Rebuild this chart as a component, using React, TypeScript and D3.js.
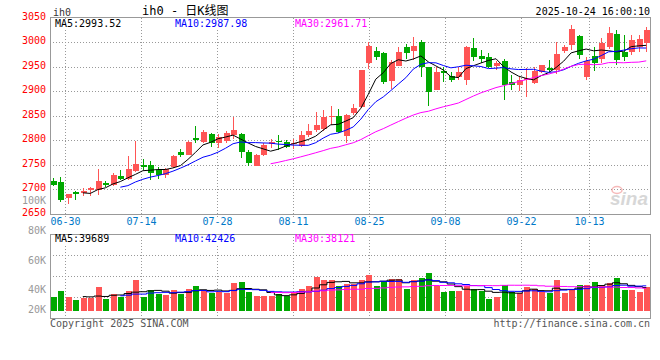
import React from "react";
import * as d3 from "d3";

const dates = [
  "06-27", "06-30",
  "07-01", "07-02", "07-03", "07-04", "07-07", "07-08", "07-09", "07-10", "07-11",
  "07-14", "07-15", "07-16", "07-17", "07-18", "07-21", "07-22", "07-23", "07-24", "07-25",
  "07-28", "07-29", "07-30", "07-31",
  "08-01", "08-04", "08-05", "08-06", "08-07", "08-08", "08-11", "08-12", "08-13", "08-14",
  "08-15", "08-18", "08-19", "08-20", "08-21", "08-22", "08-25", "08-26", "08-27", "08-28", "08-29",
  "09-01", "09-02", "09-03", "09-04", "09-05", "09-08", "09-09", "09-10", "09-11", "09-12",
  "09-15", "09-16", "09-17", "09-18", "09-19", "09-22", "09-23", "09-24", "09-25", "09-26",
  "09-29", "09-30",
  "10-09", "10-10", "10-13", "10-14", "10-15", "10-16", "10-17", "10-20", "10-21", "10-22",
  "10-23", "10-24",
];

const opens = [
  2717, 2714, 2683, 2694, 2692, 2698, 2699, 2713, 2709, 2728,
  2722, 2737, 2750, 2750, 2739, 2729, 2745, 2776, 2771, 2805,
  2796, 2813, 2795, 2799, 2810, 2813, 2777, 2748, 2771, 2792,
  2799, 2796, 2792, 2789, 2810, 2821, 2823, 2847, 2850, 2809,
  2856, 2867, 2958, 2982, 2979, 2922, 2952, 2990, 2983, 3000,
  2949, 2903, 2942, 2931, 2929, 2924, 2988, 2973, 2969, 2952,
  2962, 2920, 2913, 2923, 2916, 2940, 2948, 2944, 2982, 2995,
  3012, 2930, 2972, 2965, 2990, 3017, 2981, 2980, 2990, 2999,
];
const highs = [
  2723, 2725, 2691, 2697, 2702, 2705, 2741, 2717, 2734, 2739,
  2767, 2799, 2762, 2758, 2746, 2743, 2770, 2782, 2799, 2829,
  2822, 2814, 2812, 2819, 2848, 2814, 2780, 2773, 2794, 2803,
  2811, 2801, 2803, 2820, 2833, 2858, 2862, 2870, 2863, 2853,
  2874, 2944, 3001, 2991, 2980, 2963, 2991, 2997, 3010, 3005,
  2949, 2949, 2949, 2940, 2949, 2992, 3008, 2984, 2978, 2961,
  2965, 2933, 2930, 2947, 2949, 2954, 2964, 3001, 2995, 3035,
  3015, 2971, 2990, 3008, 3032, 3025, 3015, 3015, 3015, 3032,
];
const lows = [
  2707, 2675, 2669, 2678, 2686, 2687, 2689, 2705, 2707, 2719,
  2720, 2736, 2739, 2718, 2722, 2724, 2743, 2765, 2769, 2795,
  2795, 2787, 2785, 2794, 2803, 2763, 2748, 2748, 2767, 2785,
  2780, 2784, 2782, 2787, 2807, 2816, 2820, 2831, 2815, 2795,
  2852, 2866, 2946, 2964, 2915, 2904, 2952, 2965, 2964, 2930,
  2871, 2902, 2920, 2920, 2923, 2913, 2961, 2957, 2947, 2944,
  2882, 2903, 2901, 2889, 2915, 2938, 2940, 2935, 2978, 2984,
  2965, 2923, 2942, 2957, 2986, 2954, 2961, 2974, 2981, 2981,
];
const closes = [
  2709, 2678, 2690, 2690, 2697, 2703, 2717, 2708, 2729, 2722,
  2741, 2752, 2746, 2734, 2729, 2741, 2768, 2770, 2797, 2801,
  2817, 2794, 2807, 2814, 2821, 2777, 2754, 2771, 2790, 2797,
  2797, 2786, 2795, 2811, 2819, 2831, 2848, 2849, 2816, 2852,
  2866, 2943, 2992, 2971, 2918, 2960, 2981, 2979, 2992, 2949,
  2899, 2940, 2937, 2924, 2940, 2991, 2969, 2965, 2950, 2957,
  2912, 2913, 2923, 2927, 2942, 2954, 2944, 2976, 2991, 3027,
  2975, 2962, 2958, 2999, 3020, 2963, 2969, 3005, 3007, 3025,
];
const volumes = [
  35300, 39300, 35300, 33200, 34600, 34400, 42000, 33900, 37300, 35500,
  39300, 46700, 35300, 40000, 37300, 36600, 40000, 37300, 40700, 42700,
  40000, 37800, 38400, 37800, 44700, 45400, 38600, 35900, 35900, 35900,
  37300, 35900, 38600, 40700, 42700, 48800, 46700, 46700, 42700, 44000,
  44000, 46700, 50100, 42700, 46100, 47400, 47400, 40700, 46700, 48100,
  51400, 42700, 38600, 39300, 39300, 42700, 40700, 39300, 33900, 35300,
  43400, 38600, 38000, 42000, 40700, 38600, 38000, 46700, 38000, 40000,
  43400, 43400, 45400, 42700, 44700, 48100, 40000, 40000, 38400, 41800,
];

const priceTicks = [3050, 3000, 2950, 2900, 2850, 2800, 2750, 2700, 2650];
const priceGrid = [3000, 2950, 2900, 2850, 2800, 2750, 2700];
const volTicks = [100000, 80000, 60000, 40000, 20000];
const volTickLabels = ["100K", "80K", "60K", "40K", "20K"];
const volGrid = [1, 2, 3];
const dateLabels = ["06-30", "07-14", "07-28", "08-11", "08-25", "09-08", "09-22", "10-13"];

const maNames = ["MA5", "MA10", "MA30"];
const maPeriods = [5, 10, 30];
const maColors = ["#000000", "#0000ff", "#ff00ff"];
const priceMAText = ["2993.52", "2987.98", "2961.71"];
const volMAText = ["39689", "42426", "38121"];

const W = 660;
const H = 360;
const L = 50;
const R = 650;
const mainTop = 17.8;
const mainBottom = 213.8;
const volTop = 234;
const volBottom = 318;
const volBase = 311;
const RED = "#ff5555";
const GREEN = "#00a800";
const MONO = "'DejaVu Sans Mono', 'Liberation Mono', monospace";
const maTextX = [55, 175, 295];

function movingAvg(vals: number[], n: number): (number | null)[] {
  return vals.map((_, i) => (i < n - 1 ? null : d3.mean(vals.slice(i - n + 1, i + 1)) as number));
}

export default function App() {
  const x = d3.scaleBand<string>().domain(dates).range([49, 650]).padding(0);
  const cx = (d: string) => (x(d) as number) + x.bandwidth() / 2;
  const xLab = d3.scaleLinear().domain([-1, dates.length - 2]).range([L, R]);
  const y = d3.scaleLinear().domain([2650, 3050]).range([mainBottom, mainTop]);
  const yV = d3.scaleLinear().domain([0, 100000]).range([349.3, 201]);

  const bodyW = 6;
  const px = (v: number) => Math.round(v) + 0.5;

  const priceLines = maPeriods.map((n) => {
    const ma = movingAvg(closes, n);
    return d3
      .line<number>()
      .defined((_, i) => ma[i] !== null)
      .x((_, i) => cx(dates[i]))
      .y((_, i) => y(ma[i] as number))(closes.map((c) => c)) as string;
  });
  const volLines = maPeriods.map((n) => {
    const ma = movingAvg(volumes, n);
    return d3
      .line<number>()
      .defined((_, i) => ma[i] !== null)
      .x((_, i) => cx(dates[i]))
      .y((_, i) => yV(ma[i] as number))
      .curve(d3.curveStep)(volumes) as string;
  });

  const gridX = dateLabels.map((d) => px(xLab(dates.indexOf(d))));

  return (
    <svg
      width={W}
      height={H}
      style={{ position: "absolute", left: 0, top: 0, background: "#fff" }}
      fontFamily={MONO}
    >
      <rect x={0} y={0} width={W} height={H} fill="#fff" />
      {/* header */}
      <text x={53} y={16} fontSize={10} fill="#333">ih0</text>
      <text x={142} y={15} fontSize={12} fill="#000" fontFamily={`${MONO}, 'Noto Sans CJK SC'`}>ih0 - 日K线图</text>
      <text x={650} y={15} fontSize={10} fill="#000" textAnchor="end">2025-10-24 16:00:10</text>

      {/* main grid */}
      <g shapeRendering="crispEdges">
        {priceGrid.map((v) => (
          <line key={v} x1={L} x2={R} y1={px(y(v))} y2={px(y(v))} stroke="#999" strokeDasharray="1,2" />
        ))}
        {gridX.map((gx, i) => (
          <line key={i} x1={gx} x2={gx} y1={mainTop} y2={mainBottom + 3} stroke="#999" strokeDasharray="1,2" />
        ))}
        {volGrid.map((k) => {
          const gy = px(volTop + ((volBottom - volTop) * k) / 4);
          return <line key={k} x1={L} x2={R} y1={gy} y2={gy} stroke="#999" strokeDasharray="1,2" />;
        })}
        {gridX.map((gx, i) => (
          <line key={"v" + i} x1={gx} x2={gx} y1={volTop} y2={volBottom + 3} stroke="#999" strokeDasharray="1,2" />
        ))}
      </g>

      {/* watermark */}
      <g opacity={0.55}>
        <ellipse cx={617} cy={190} rx={5} ry={3.5} fill="none" stroke="#f08080" strokeWidth={1.5} />
        <text x={648} y={205} textAnchor="end" fontSize={19} fontStyle="italic" fontWeight="bold" fill="#b8b8b8" fontFamily="'Liberation Sans', Arial, sans-serif">sina</text>
      </g>

      {/* candles */}
      <g shapeRendering="crispEdges">
        {dates.map((d, i) => {
          const o = opens[i];
          const c = closes[i];
          const up = c >= o;
          const col = up ? RED : GREEN;
          const xc = Math.round(cx(d));
          const top = y(Math.max(o, c));
          const bot = y(Math.min(o, c));
          return (
            <g key={d}>
              <line x1={xc + 0.5} x2={xc + 0.5} y1={y(highs[i])} y2={y(lows[i])} stroke={col} />
              <rect x={xc - bodyW / 2 + 0.5} y={top} width={bodyW} height={Math.max(1, bot - top)} fill={col} />
            </g>
          );
        })}
      </g>

      {/* MA lines main */}
      {priceLines.map((p, i) => (
        <path key={i} d={p} fill="none" stroke={maColors[i]} strokeWidth={1} />
      ))}

      {/* volume bars */}
      <g shapeRendering="crispEdges">
        {dates.map((d, i) => {
          const col = closes[i] >= opens[i] ? RED : GREEN;
          const xc = Math.round(cx(d));
          const top = yV(volumes[i]);
          return <rect key={d} x={xc - bodyW / 2 + 0.5} y={top} width={bodyW} height={volBase - top} fill={col} />;
        })}
      </g>
      {volLines.map((p, i) => (
        <path key={i} d={p} fill="none" stroke={maColors[i]} strokeWidth={1} />
      ))}

      {/* frames */}
      <g shapeRendering="crispEdges" fill="none" stroke="#999">
        <rect x={L + 0.5} y={px(mainTop) - 1} width={R - L} height={px(mainBottom) - px(mainTop) + 1} />
        <rect x={L + 0.5} y={volTop + 0.5} width={R - L} height={volBottom - volTop} />
      </g>

      {/* MA header texts */}
      {maNames.map((n, i) => {
        const t1 = `${n}:${priceMAText[i]}`;
        const t2 = `${n}:${volMAText[i]}`;
        return (
          <g key={n}>
            <rect x={maTextX[i] - 1} y={19.5} width={t1.length * 6 + 2} height={9} fill="#fff" />
            <text x={maTextX[i]} y={27} fontSize={10} fill={maColors[i]}>{t1}</text>
            <rect x={maTextX[i] - 1} y={235} width={t2.length * 6 + 2} height={9} fill="#fff" />
            <text x={maTextX[i]} y={241.5} fontSize={10} fill={maColors[i]}>{t2}</text>
          </g>
        );
      })}

      {/* price axis labels */}
      {priceTicks.map((v) => (
        <text key={v} x={46} y={y(v) + 2} fontSize={10} fill="#ff0000" textAnchor="end">{v}</text>
      ))}
      {/* volume axis labels */}
      {volTicks.map((v, i) => (
        <text key={v} x={46} y={Math.min(yV(v), 310) + 3.3} fontSize={10} fill="#999" textAnchor="end">{volTickLabels[i]}</text>
      ))}
      {/* date labels */}
      {dateLabels.map((d, i) => (
        <text key={d} x={gridX[i]} y={225} fontSize={10} fill="#0078c8" textAnchor="middle">{d}</text>
      ))}

      {/* footer */}
      <text x={50} y={327} fontSize={10} fill="#555">Copyright 2025 SINA.COM</text>
      <text x={650} y={327} fontSize={10} fill="#555" textAnchor="end">http://finance.sina.com.cn</text>
    </svg>
  );
}
